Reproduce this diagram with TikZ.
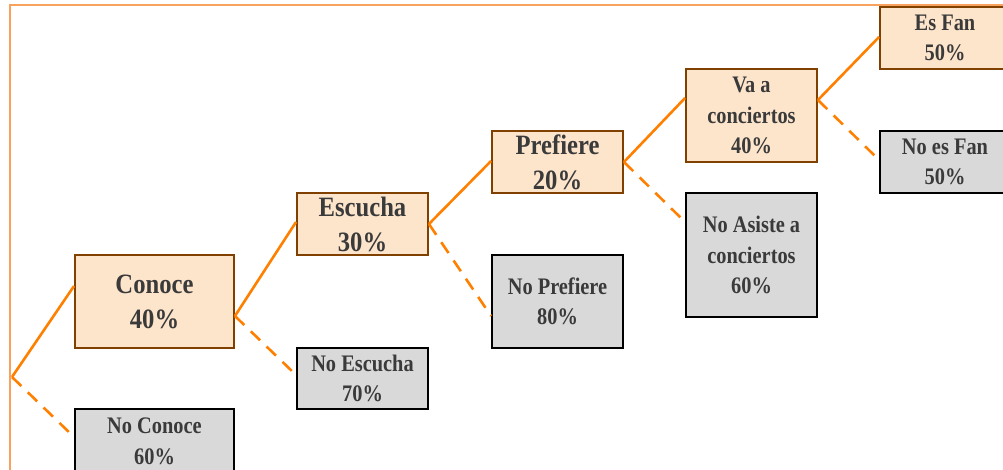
\documentclass[tikz,border=0pt]{standalone}
\usepackage{fontspec}
\newfontfamily\bigtf{Liberation Serif}[FakeStretch=0.88]
\newfontfamily\smalltf{Liberation Serif}[FakeStretch=0.86]
\definecolor{conn}{HTML}{FF8000}
\definecolor{frame}{HTML}{F7A25E}
\definecolor{peach}{HTML}{FDE5CC}
\definecolor{brownb}{HTML}{7F4000}
\definecolor{greyf}{HTML}{D9D9D9}
\definecolor{txt}{HTML}{3A3A3A}
\tikzset{
  yesbox/.style={draw=brownb, fill=peach, line width=1.9pt, inner sep=0pt, align=center, text=txt},
  nobox/.style={draw=black, fill=greyf, line width=1.9pt, inner sep=0pt, align=center, text=txt},
  bigtxt/.style={font=\bigtf\bfseries\fontsize{28}{35}\selectfont},
  smalltxt/.style={font=\smalltf\bfseries\fontsize{23.7}{30.5}\selectfont},
  yesline/.style={draw=conn, line width=2.6pt},
  noline/.style={draw=conn, line width=2.6pt, dash pattern=on 13pt off 9pt}
}
\begin{document}
\begin{tikzpicture}[x=1pt,y=1pt]
\useasboundingbox (0,0) rectangle (1003,-470);
\draw[frame, line width=2pt] (10,-480) -- (10,-5) -- (1012,-5);
% nodes
\node[yesbox, bigtxt, minimum width=159pt, minimum height=93pt] (conoce) at (154.5,-301.5) {Conoce\\40\%};
\node[nobox, smalltxt, minimum width=159pt, minimum height=65pt] (noconoce) at (154.5,-441.5) {No Conoce\\60\%};
\node[yesbox, bigtxt, minimum width=131pt, minimum height=62pt] (escucha) at (362.5,-224) {Escucha\\30\%};
\node[nobox, smalltxt, minimum width=131pt, minimum height=61pt] (noescucha) at (362.5,-378.5) {No Escucha\\70\%};
\node[yesbox, bigtxt, minimum width=131pt, minimum height=62pt] (prefiere) at (557.5,-162) {Prefiere\\20\%};
\node[nobox, smalltxt, minimum width=131pt, minimum height=93pt] (noprefiere) at (557.5,-301.5) {No Prefiere\\80\%};
\node[yesbox, smalltxt, minimum width=131pt, minimum height=93pt] (vaa) at (751.5,-115.5) {Va a\\conciertos\\40\%};
\node[nobox, smalltxt, minimum width=131pt, minimum height=124pt] (noasiste) at (751.5,-255) {No Asiste a\\conciertos\\60\%};
\node[yesbox, smalltxt, minimum width=130pt, minimum height=62pt] (esfan) at (945,-38) {Es Fan\\50\%};
\node[nobox, smalltxt, minimum width=130pt, minimum height=62pt] (noesfan) at (945,-162) {No es Fan\\50\%};
\coordinate (root) at (12,-377);
% connectors
\draw[yesline] (root) -- ([yshift=15.5pt]conoce.west);
\draw[noline] (root) -- ([yshift=4.5pt]noconoce.west);
\draw[yesline] ([yshift=-14.5pt]conoce.east) -- ([yshift=2pt]escucha.west);
\draw[noline] ([yshift=-14.5pt]conoce.east) -- ([yshift=3.5pt]noescucha.west);
\draw[yesline] (escucha.east) -- ([yshift=1pt]prefiere.west);
\draw[noline] (escucha.east) -- ([yshift=-14.5pt]noprefiere.west);
\draw[yesline] (prefiere.east) -- ([yshift=17.5pt]vaa.west);
\draw[noline] (prefiere.east) -- ([yshift=33pt]noasiste.west);
\draw[yesline] ([yshift=15.5pt]vaa.east) -- ([yshift=1pt]esfan.west);
\draw[noline] ([yshift=15.5pt]vaa.east) -- ([yshift=2pt]noesfan.west);
\end{tikzpicture}
\end{document}
